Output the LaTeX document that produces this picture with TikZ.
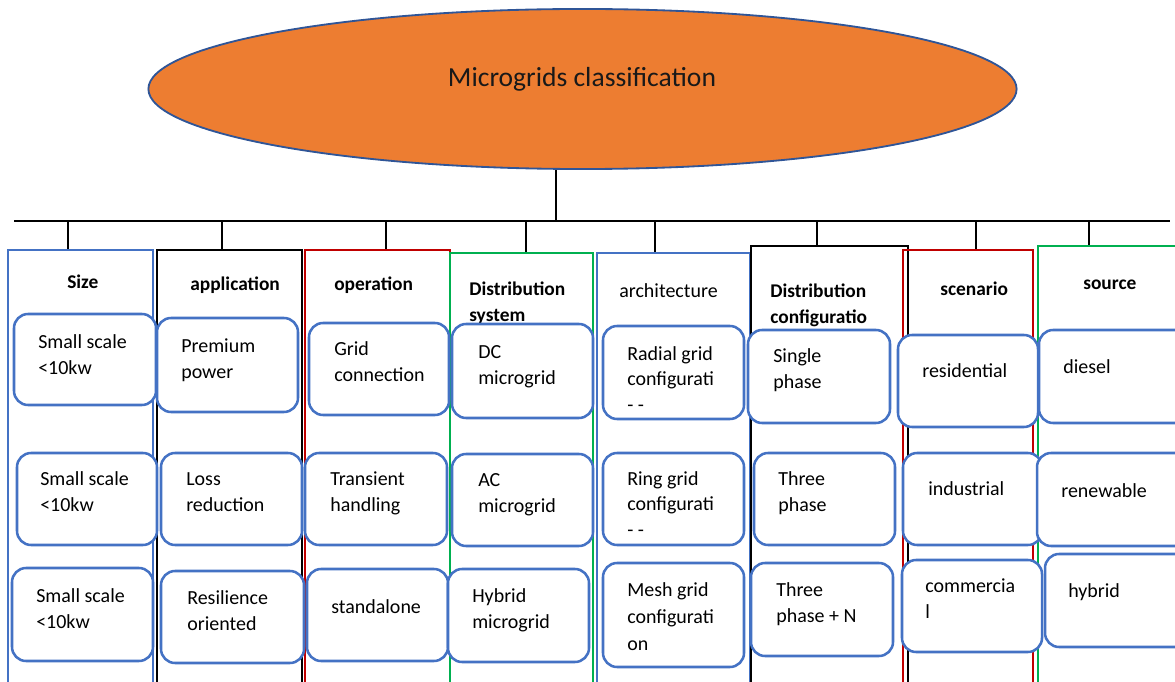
\documentclass[tikz,border=0pt]{standalone}
\usepackage{fontspec}
\setmainfont{Carlito}
\usetikzlibrary{fit,shapes.geometric}
\definecolor{mgorange}{HTML}{ED7D31}
\definecolor{mgblue}{HTML}{4472C4}
\definecolor{mgedge}{HTML}{2F5597}
\definecolor{mgred}{HTML}{C00000}
\definecolor{mggreen}{HTML}{00B050}
\tikzset{
  col/.style={draw=#1, line width=1.7pt, inner sep=0pt},
  item/.style={draw=mgblue, fill=white, line width=1.8pt, rounded corners=10pt, inner sep=0pt},
  txt/.style={anchor=base west, align=left, inner sep=0pt, font=\fontsize{14.2}{17.8}\selectfont},
  head/.style={anchor=base west, align=left, inner sep=0pt, font=\fontsize{13.8}{17.8}\selectfont\bfseries},
  wire/.style={line width=2pt}
}
\begin{document}
\begin{tikzpicture}[x=0.025cm,y=-0.025cm]
\useasboundingbox (0,0) rectangle (1175,682);
\clip (0,0) rectangle (1175,682);

% top ellipse
\node[ellipse, draw=mgedge, line width=1.3pt, fill=mgorange, minimum width=21.7cm, minimum height=4cm, inner sep=0pt] (title) at (582.5,89) {};
\node[anchor=base, inner sep=0pt, font=\fontsize{19.6}{22}\selectfont, text=black!90] (titlet) at (582,87) {Microgrids classification};

% bus
\coordinate (busL) at (14,221);
\coordinate (busR) at (1170,221);
\coordinate (trunk) at (556,221);
\draw[wire] (busL) -- (busR);
\draw[wire] (trunk) -- (trunk |- title.south);

% columns
\node[col=mgblue, fit={(8,250)(153,700)}] (size) {};
\node[col=black, fit={(157,250)(302,700)}] (app) {};
\node[col=mgred, fit={(305,250)(450,700)}] (oper) {};
\node[col=mggreen, fit={(450,253)(593,700)}] (dist) {};
\node[col=mgblue, fit={(597,253)(750,700)}] (arch) {};
\node[col=black, fit={(751,246)(908,700)}] (conf) {};
\node[col=mgred, fit={(903,250)(1033,700)}] (scen) {};
\node[col=mggreen, fit={(1038,246)(1185,700)}] (src) {};

% drops
\foreach \x/\c in {68/size, 222/app, 386/oper, 526/dist, 655/arch, 817/conf, 976/scen, 1089/src}{
  \coordinate (d-\c) at (\x,221);
  \draw[wire] (d-\c) -- (d-\c |- \c.north);
}

% headers (base = last line)
\node[head] (sizeh) at (67,288) {Size};
\node[head] (apph) at (190,290) {application};
\node[head] (operh) at (334,290) {operation};
\node[head] (disth) at (469,321) {Distribution\\system};
\node[txt] (archh) at (619,297) {architecture};
\node[head] (confh) at (770,323) {Distribution\\configuratio};
\node[head] (scenh) at (940,295) {scenario};
\node[head] (srch) at (1083,289) {source};

% size
\node[item, fit={(14,314)(156,405)}] (size1) {};
\node[item, fit={(17,453)(157,545)}] (size2) {};
\node[item, fit={(12,568)(153,661)}] (size3) {};
\node[txt] (size1t) at (38,374) {Small scale\\<10kw};
\node[txt] (size2t) at (40,511) {Small scale\\<10kw};
\node[txt] (size3t) at (36,628) {Small scale\\<10kw};

% application
\node[item, fit={(157,318)(298,412)}] (app1) {};
\node[item, fit={(161,453)(302,545)}] (app2) {};
\node[item, fit={(161,571)(304,663)}] (app3) {};
\node[txt] (app1t) at (181,378) {Premium\\power};
\node[txt] (app2t) at (186,511) {Loss\\reduction};
\node[txt] (app3t) at (187,630) {Resilience\\oriented};

% operation
\node[item, fit={(309,323)(449,415)}] (oper1) {};
\node[item, fit={(305,453)(447,545)}] (oper2) {};
\node[item, fit={(307,569)(448,661)}] (oper3) {};
\node[txt] (oper1t) at (334,381) {Grid\\connection};
\node[txt] (oper2t) at (330,511) {Transient\\handling};
\node[txt] (oper3t) at (331,613) {standalone};

% distribution system
\node[item, fit={(452,324)(593,418)}] (dist1) {};
\node[item, fit={(452,454)(593,546)}] (dist2) {};
\node[item, fit={(448,569)(589,662)}] (dist3) {};
\node[txt] (dist1t) at (478,384) {DC\\microgrid};
\node[txt] (dist2t) at (478,512) {AC\\microgrid};
\node[txt] (dist3t) at (472,628) {Hybrid\\microgrid};

% architecture
\node[item, fit={(603,326)(744,419)}] (arch1) {};
\node[item, fit={(603,453)(744,545)}] (arch2) {};
\node[item, fit={(603,563)(744,667)}] (arch3) {};
\node[txt] (arch1t) at (627,411) {Radial grid\\configurati\\- -};
\node[txt] (arch2t) at (627,536) {Ring grid\\configurati\\- -};
\node[txt, font=\fontsize{14.2}{19}\selectfont] (arch3t) at (627,650) {Mesh grid\\configurati\\on};

% distribution configuration
\node[item, fit={(748,330)(890,423)}] (conf1) {};
\node[item, fit={(754,453)(895,545)}] (conf2) {};
\node[item, fit={(751,563)(893,656)}] (conf3) {};
\node[txt] (conf1t) at (773,388) {Single\\phase};
\node[txt] (conf2t) at (778,511) {Three\\phase};
\node[txt] (conf3t) at (776,622) {Three\\phase + N};

% scenario
\node[item, fit={(898,335)(1038,427)}] (scen1) {};
\node[item, fit={(903,453)(1042,545)}] (scen2) {};
\node[item, fit={(902,560)(1042,652)}] (scen3) {};
\node[txt] (scen1t) at (922,377) {residential};
\node[txt] (scen2t) at (928,495) {industrial};
\node[txt] (scen3t) at (925,618) {commercia\\l};

% source
\node[item, fit={(1039,330)(1190,423)}] (src1) {};
\node[item, fit={(1037,453)(1190,546)}] (src2) {};
\node[item, fit={(1045,554)(1190,647)}] (src3) {};
\node[txt] (src1t) at (1063,373) {diesel};
\node[txt] (src2t) at (1061,497) {renewable};
\node[txt] (src3t) at (1068,597) {hybrid};
\end{tikzpicture}
\end{document}
